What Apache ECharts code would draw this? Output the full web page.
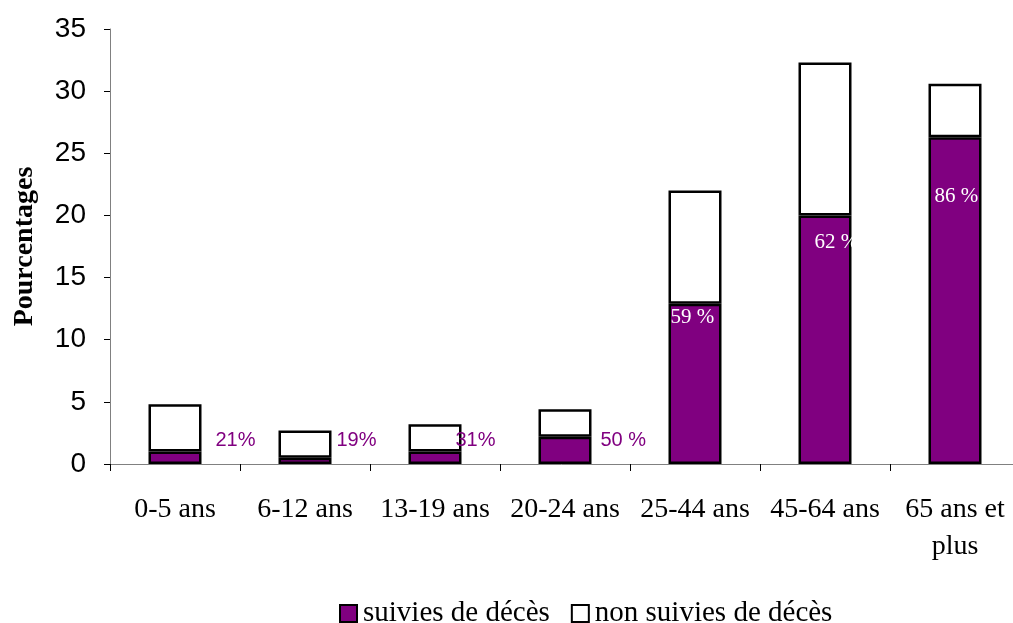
<!DOCTYPE html>
<html>
<head>
<meta charset="utf-8">
<script src="https://cdn.jsdelivr.net/npm/echarts@6/dist/echarts.min.js"></script>
<style>
  html, body { margin: 0; padding: 0; background: #fff; }
  #chart { width: 1013px; height: 623px; }
</style>
</head>
<body>
<div id="chart"></div>
<script>
// Age groups on the x axis
const categories = ['0-5 ans', '6-12 ans', '13-19 ans', '20-24 ans', '25-44 ans', '45-64 ans', '65 ans et\nplus'];
// Share (%) of cases followed by death, per age group
const suivies = [1.0, 0.5, 1.0, 2.2, 12.9, 20.0, 26.3];
// Share (%) of cases not followed by death, per age group
const nonSuivies = [3.8, 2.2, 2.2, 2.2, 9.1, 12.3, 4.3];
// Proportion of deaths within each age group
const pctLabels = ['21%', '19%', '31%', '50 %', '59 %', '62 %', '86 %'];
// Y axis ticks
const yMin = 0, yMax = 35, yStep = 5;

const SERIF = '"Liberation Serif", "Times New Roman", serif';
const SANS = '"Liberation Sans", Arial, sans-serif';
const PURPLE = '#800080';

// Label placement for each bar: small groups get a purple note beside the bar,
// large groups get a white note inside the purple segment.
const outside = (dx) => ({
  position: ['100%', '100%'], offset: [dx, -24], align: 'left', verticalAlign: 'middle',
  color: PURPLE, fontFamily: SANS, fontSize: 20
});
const inside = (dx, dy) => ({
  position: [0, 0], offset: [dx, dy], align: 'left', verticalAlign: 'middle',
  color: '#ffffff', fontFamily: SERIF, fontSize: 21
});
const labelStyles = [outside(14), outside(5), outside(-6), outside(9), inside(2, 14), inside(16, 27), inside(6, 59)];

const chart = echarts.init(document.getElementById('chart'), null, { renderer: 'canvas' });

chart.setOption({
  animation: false,
  backgroundColor: '#ffffff',
  grid: { left: 110, right: -7, top: 29, bottom: 159, containLabel: false, outerBoundsMode: 'none' },
  legend: {
    top: 594,
    left: 334,
    icon: 'rect',
    itemWidth: 17,
    itemHeight: 17,
    itemGap: 21,
    textStyle: { fontFamily: SERIF, fontSize: 29, color: '#000', padding: [0, 0, 0, 1] },
    data: ['suivies de décès', 'non suivies de décès']
  },
  xAxis: {
    type: 'category',
    data: categories,
    axisLine: { lineStyle: { color: '#808080', width: 1 } },
    axisTick: { show: true, length: 7, alignWithLabel: false, lineStyle: { color: '#000' } },
    axisLabel: {
      interval: 0, margin: 27, color: '#000',
      fontFamily: SERIF, fontSize: 28, lineHeight: 37
    }
  },
  yAxis: {
    type: 'value',
    min: yMin, max: yMax, interval: yStep,
    name: 'Pourcentages',
    nameLocation: 'middle',
    nameRotate: 90,
    nameGap: 71,
    nameTextStyle: { fontFamily: SERIF, fontSize: 28, fontWeight: 'bold', color: '#000' },
    axisLine: { show: true, lineStyle: { color: '#808080', width: 1 } },
    axisTick: { show: true, length: 6, lineStyle: { color: '#000' } },
    splitLine: { show: false },
    axisLabel: { margin: 24, color: '#000', fontFamily: SANS, fontSize: 28 }
  },
  series: [
    {
      name: 'suivies de décès',
      type: 'bar',
      stack: 'total',
      barWidth: 53,
      itemStyle: { color: PURPLE, borderColor: '#000', borderWidth: 2.5 },
      data: suivies.map((v, i) => ({
        value: v,
        label: Object.assign({ show: true, formatter: pctLabels[i] }, labelStyles[i])
      })),
      z: 2
    },
    {
      name: 'non suivies de décès',
      type: 'bar',
      stack: 'total',
      barWidth: 53,
      itemStyle: { color: '#ffffff', borderColor: '#000', borderWidth: 2.5 },
      data: nonSuivies,
      z: 1
    }
  ]
});
</script>
</body>
</html>
